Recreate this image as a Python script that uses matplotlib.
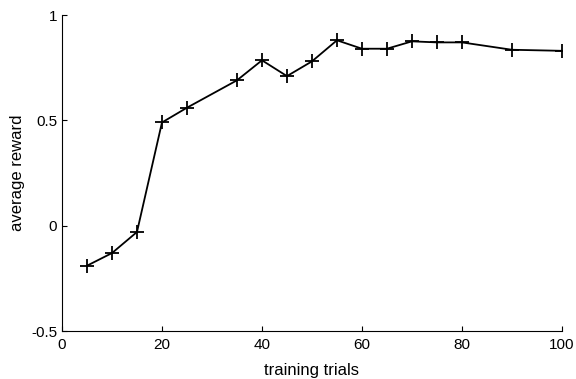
import matplotlib
matplotlib.use("Agg")
import matplotlib.pyplot as plt

# training curve
trials = [5, 10, 15, 20, 25, 35, 40, 45, 50, 55, 60, 65, 70, 75, 80, 90, 100]
reward = [-0.19, -0.13, -0.03, 0.49, 0.56, 0.69, 0.785, 0.71, 0.78, 0.88,
          0.84, 0.84, 0.875, 0.87, 0.87, 0.835, 0.83]
xticks = [0, 20, 40, 60, 80, 100]
yticks = [-0.5, 0, 0.5, 1]
yticklabels = ["-0.5", "0", "0.5", "1"]

plt.rcParams["font.family"] = ["Liberation Sans", "DejaVu Sans"]

fig = plt.figure(figsize=(5.76, 3.79), dpi=100)
ax = fig.add_axes([0.1076, 0.1266, 0.868, 0.8338])

ax.plot(trials, reward, "k-", marker="+", markersize=10, markeredgewidth=1.3,
        linewidth=1.3)

ax.set_xlim(0, 100)
ax.set_ylim(-0.5, 1)
ax.set_xticks(xticks)
ax.set_yticks(yticks)
ax.set_yticklabels(yticklabels)
ax.tick_params(direction="in", length=3.5, width=0.8, labelsize=11)
ax.tick_params(axis="x", pad=5)
ax.spines["top"].set_visible(False)
ax.spines["right"].set_visible(False)
ax.set_xlabel("training trials", fontsize=12, labelpad=8)
ax.set_ylabel("average reward", fontsize=12)

fig.savefig("out.png", dpi=100)
